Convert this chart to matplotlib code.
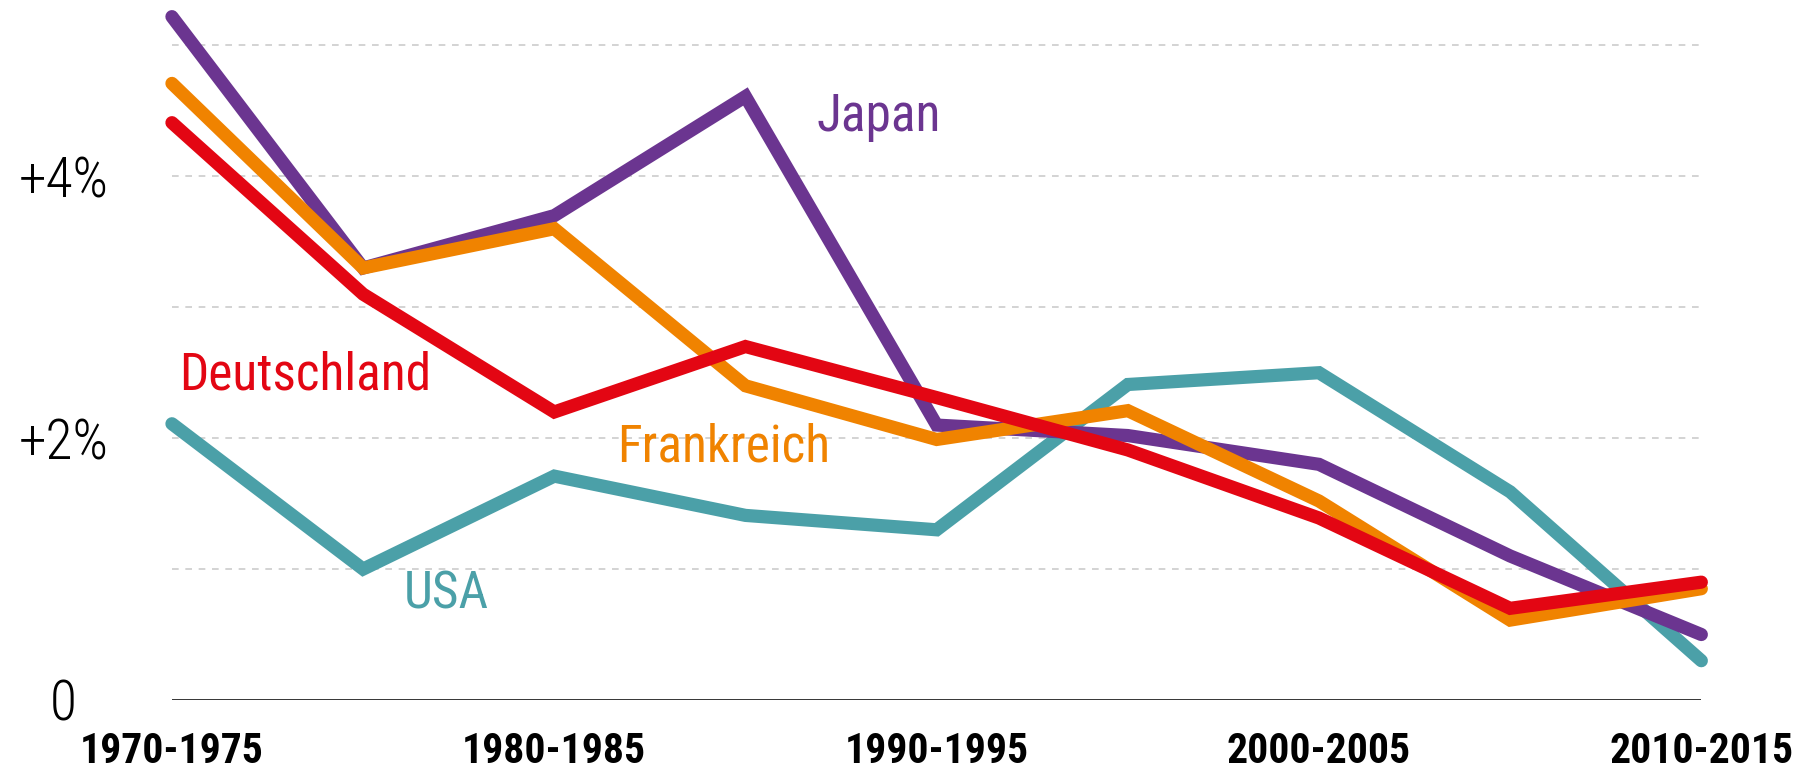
import matplotlib
matplotlib.use("Agg")
import matplotlib.pyplot as plt

plt.rcParams['font.family'] = ['Roboto Condensed', 'DejaVu Sans']

periods = ["1970-1975", "1975-1980", "1980-1985", "1985-1990", "1990-1995",
           "1995-2000", "2000-2005", "2005-2010", "2010-2015"]
japan = [5.22, 3.30, 3.70, 4.61, 2.10, 2.02, 1.80, 1.10, 0.50]
frankreich = [4.71, 3.30, 3.60, 2.40, 1.99, 2.21, 1.52, 0.61, 0.85]
deutschland = [4.41, 3.10, 2.20, 2.70, 2.31, 1.91, 1.39, 0.70, 0.90]
usa = [2.11, 1.00, 1.71, 1.41, 1.30, 2.41, 2.50, 1.59, 0.30]

c_japan = "#6b3590"
c_fr = "#f08300"
c_de = "#e30613"
c_usa = "#4ba0a8"

fig = plt.figure(figsize=(18.08, 7.72), dpi=100)
ax = fig.add_axes([0.0951, 0.0933, 0.8459, 0.8987])

x = list(range(len(periods)))

# grid
for g in [1, 2, 3, 4, 5]:
    ax.axhline(g, color="#cccccc", lw=1.2, ls=(0, (4, 4)), zorder=0)
ax.axhline(0, color="#222222", lw=2, zorder=1)

lw = 9.5
ax.plot(x, usa, color=c_usa, lw=lw, solid_capstyle="round", solid_joinstyle="miter", clip_on=False, zorder=2)
ax.plot(x, japan, color=c_japan, lw=lw, solid_capstyle="round", solid_joinstyle="miter", clip_on=False, zorder=3)
ax.plot(x, frankreich, color=c_fr, lw=lw, solid_capstyle="round", solid_joinstyle="miter", clip_on=False, zorder=4)
ax.plot(x, deutschland, color=c_de, lw=lw, solid_capstyle="round", solid_joinstyle="miter", clip_on=False, zorder=5)

# series labels
ax.text(3.37, 4.35, "Japan", color=c_japan, fontsize=37, va="baseline")
ax.text(0.04, 2.37, "Deutschland", color=c_de, fontsize=37, va="baseline")
ax.text(2.33, 1.82, "Frankreich", color=c_fr, fontsize=37, va="baseline")
ax.text(1.21, 0.70, "USA", color=c_usa, fontsize=37, va="baseline")

ax.set_xlim(0, 8)
ax.set_ylim(0, 5.3)
ax.set_xticks(x[::2])
ax.set_xticklabels(periods[::2], fontsize=30, fontweight="bold")
ax.set_yticks([0, 2, 4])
ax.set_yticklabels(["0", "+2%", "+4%"], fontsize=40, fontweight="light")
ax.tick_params(length=0)
ax.tick_params(axis="y", pad=78)
ax.tick_params(axis="x", pad=22)
for lab in ax.get_yticklabels():
    lab.set_horizontalalignment("center")
for s in ax.spines.values():
    s.set_visible(False)

fig.savefig("out.png", dpi=100)
